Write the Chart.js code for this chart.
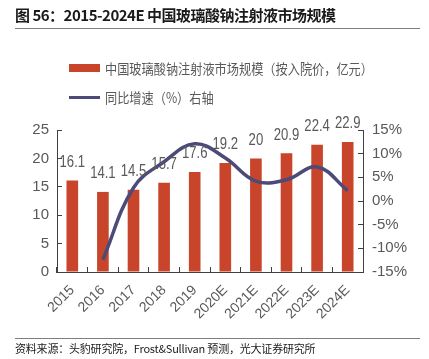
<!DOCTYPE html>
<html>
<head>
<meta charset="utf-8">
<script src="https://cdn.jsdelivr.net/npm/chart.js@4.4.1/dist/chart.umd.min.js"></script>
<style>
    body { margin: 0; background: #fff; font-family: "Noto Sans CJK SC", sans-serif; }
    #wrap { position: relative; width: 429px; height: 359px; overflow: hidden; }
    #chart { position: absolute; left: 0; top: 0; }
    .title { position: absolute; left: 15px; top: 4px; font-size: 15px; letter-spacing: -0.5px; font-weight: bold; color: #1a1a1a; white-space: nowrap; }
    .rule { position: absolute; left: 15px; width: 405px; height: 1px; background: #7f7f7f; }
    .legend { position: absolute; left: 69px; font-size: 14px; color: #595959; white-space: nowrap; }
    .legend .row { position: absolute; left: 0; display: flex; align-items: center; }
    .legend .txt { display: inline-block; transform: scaleX(0.87); transform-origin: left center; margin-left: 5px; }
    .source { position: absolute; left: 15px; top: 340px; font-size: 11px; letter-spacing: -0.2px; color: #1a1a1a; white-space: nowrap; }
</style>
</head>
<body>
<div id="wrap">
    <canvas id="chart" width="429" height="359"></canvas>
    <div class="title">图 56：2015-2024E 中国玻璃酸钠注射液市场规模</div>
    <div class="rule" style="top:28px"></div>
    <div class="legend" id="legend"></div>
    <div class="rule" style="top:338px"></div>
    <div class="source">资料来源：头豹研究院，Frost&amp;Sullivan 预测，光大证券研究所</div>
</div>
<script>
// Chart data
const years = ['2015', '2016', '2017', '2018', '2019', '2020E', '2021E', '2022E', '2023E', '2024E'];
const marketSize = [16.1, 14.1, 14.5, 15.7, 17.6, 19.2, 20, 20.9, 22.4, 22.9];
const growthRate = [null, -12.4, 2.8, 8.3, 12.1, 9.1, 4.2, 4.5, 7.2, 2.2];
const leftTicks = [0, 5, 10, 15, 20, 25];
const rightTicks = [-15, -10, -5, 0, 5, 10, 15];

const barLabel = '中国玻璃酸钠注射液市场规模（按入院价，亿元）';
const lineLabel = '同比增速（%）右轴';

const barColor = '#c8442a';
const lineColor = '#4b4a78';
const tickColor = '#595959';
const axisColor = '#404040';
const sans = '"Liberation Sans", Arial, sans-serif';

// Value labels above the bars (squeezed a bit, the original uses a narrow face)
const barValues = {
    id: 'barValues',
    afterDatasetsDraw(chart) {
        const ctx = chart.ctx;
        const meta = chart.getDatasetMeta(1);
        ctx.save();
        ctx.font = '16px ' + sans;
        ctx.fillStyle = tickColor;
        ctx.textAlign = 'center';
        ctx.textBaseline = 'bottom';
        meta.data.forEach((bar, i) => {
            ctx.save();
            ctx.translate(bar.x, bar.y - 10);
            ctx.scale(0.82, 1);
            ctx.fillText(String(marketSize[i]), 0, 0);
            ctx.restore();
        });
        ctx.restore();
    }
};

const ctx = document.getElementById('chart').getContext('2d');
const chart = new Chart(ctx, {
    type: 'bar',
    data: {
        labels: years,
        datasets: [{
            type: 'line',
            label: lineLabel,
            data: growthRate,
            yAxisID: 'y2',
            borderColor: lineColor,
            borderWidth: 3.5,
            pointRadius: 0,
            tension: 0.4,
            order: 0
        }, {
            label: barLabel,
            data: marketSize,
            yAxisID: 'y',
            backgroundColor: barColor,
            categoryPercentage: 1,
            barPercentage: 0.38,
            order: 1
        }]
    },
    options: {
        responsive: false,
        animation: false,
        layout: { padding: { top: 130, left: 0, right: 0, bottom: 0 } },
        plugins: {
            legend: { display: false },
            tooltip: { enabled: false }
        },
        scales: {
            x: {
                grid: { drawOnChartArea: false, color: axisColor, tickLength: -5 },
                border: { color: axisColor },
                ticks: {
                    color: tickColor,
                    font: { family: sans, size: 14 },
                    maxRotation: 45,
                    minRotation: 45,
                    padding: 15
                },
                afterFit(scale) { scale.height = 87; }
            },
            y: {
                position: 'left',
                min: 0,
                max: 25,
                afterBuildTicks(scale) { scale.ticks = leftTicks.map(v => ({ value: v })); },
                grid: { drawOnChartArea: false, color: axisColor, tickLength: -5 },
                border: { color: axisColor },
                ticks: { color: tickColor, font: { family: sans, size: 15 }, padding: 13 },
                afterFit(scale) { scale.width = 57; }
            },
            y2: {
                position: 'right',
                min: -15,
                max: 15,
                afterBuildTicks(scale) { scale.ticks = rightTicks.map(v => ({ value: v })); },
                grid: { drawOnChartArea: false, color: axisColor, tickLength: -5 },
                border: { color: axisColor },
                ticks: {
                    color: tickColor,
                    font: { family: sans, size: 15 },
                    padding: 14,
                    callback: v => v + '%'
                },
                afterFit(scale) { scale.width = 66; }
            }
        }
    },
    plugins: [barValues]
});

// HTML legend built from the datasets
const legend = document.getElementById('legend');
legend.style.top = '0px';
[
    { label: barLabel, top: 58, swatch: '<span style="display:inline-block;width:31px;height:8px;background:' + barColor + '"></span>' },
    { label: lineLabel, top: 87, swatch: '<span style="display:inline-block;width:31px;height:3px;background:' + lineColor + '"></span>' }
].forEach(item => {
    const row = document.createElement('div');
    row.className = 'row';
    row.style.top = item.top + 'px';
    row.style.height = '20px';
    row.innerHTML = item.swatch + '<span class="txt">' + item.label + '</span>';
    legend.appendChild(row);
});
</script>
</body>
</html>
